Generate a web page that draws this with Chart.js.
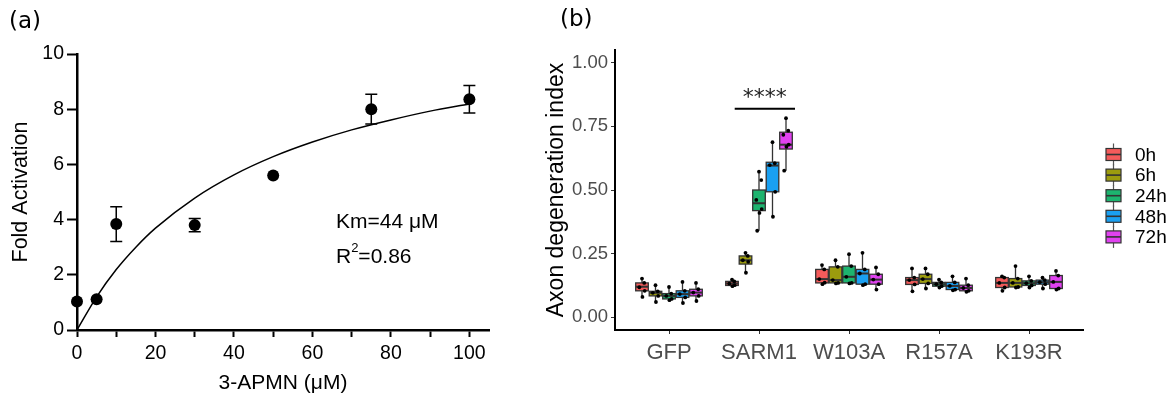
<!DOCTYPE html>
<html>
<head>
<meta charset="utf-8">
<script src="https://cdn.jsdelivr.net/npm/chart.js@4.4.1/dist/chart.umd.min.js"></script>
<style>
  html, body { margin: 0; padding: 0; background: #fff; }
  #wrap { position: relative; width: 1170px; height: 409px; }
  #chartA { position: absolute; left: 0; top: 0; }
  #chartB { position: absolute; left: 520px; top: 0; }
</style>
</head>
<body>
<div id="wrap">
  <canvas id="chartA" width="520" height="409"></canvas>
  <canvas id="chartB" width="650" height="409"></canvas>
</div>
<script>
// ---- (a) fold activation vs 3-APMN ----
const doseX   = [0, 5, 10, 30, 50, 75, 100];
const foldY   = [1.03, 1.11, 3.84, 3.80, 5.60, 8.00, 8.36];
const foldErr = [0, 0, 0.63, 0.24, 0, 0.54, 0.50];

// fitted saturation curve
const fitX = [0, 5, 10, 15, 20, 30, 40, 50, 60, 70, 80, 90, 100];
const fitY = [0, 1.2, 2.19, 3.0, 3.69, 4.78, 5.62, 6.28, 6.81, 7.25, 7.61, 7.93, 8.19];

// ---- (b) axon degeneration index ----
const groups = ['GFP', 'SARM1', 'W103A', 'R157A', 'K193R'];
const timepoints = ['0h', '6h', '24h', '48h', '72h'];
const yTicksB = [0, 0.25, 0.5, 0.75, 1.0];

// box stats per group: [min, q1, median, q3, max]
const box0h = [
  [0.080, 0.104, 0.120, 0.135, 0.152],
  [0.122, 0.125, 0.133, 0.141, 0.148],
  [0.130, 0.135, 0.150, 0.188, 0.205],
  [0.102, 0.129, 0.146, 0.156, 0.192],
  [0.104, 0.117, 0.135, 0.156, 0.161]
];
const box6h = [
  [0.060, 0.084, 0.096, 0.102, 0.126],
  [0.175, 0.209, 0.224, 0.241, 0.253],
  [0.133, 0.135, 0.146, 0.198, 0.224],
  [0.113, 0.133, 0.150, 0.169, 0.192],
  [0.117, 0.119, 0.135, 0.152, 0.201]
];
const box24h = [
  [0.067, 0.072, 0.084, 0.093, 0.119],
  [0.340, 0.419, 0.448, 0.500, 0.572],
  [0.133, 0.135, 0.159, 0.201, 0.248],
  [0.117, 0.122, 0.130, 0.137, 0.148],
  [0.117, 0.125, 0.134, 0.143, 0.161]
];
const box48h = [
  [0.056, 0.078, 0.091, 0.104, 0.139],
  [0.395, 0.493, 0.596, 0.609, 0.688],
  [0.126, 0.130, 0.172, 0.188, 0.253],
  [0.106, 0.109, 0.123, 0.137, 0.161],
  [0.113, 0.130, 0.138, 0.146, 0.156]
];
const box72h = [
  [0.064, 0.084, 0.097, 0.110, 0.135],
  [0.576, 0.661, 0.678, 0.727, 0.782],
  [0.109, 0.130, 0.148, 0.169, 0.196],
  [0.100, 0.104, 0.115, 0.126, 0.152],
  [0.109, 0.113, 0.139, 0.164, 0.182]
];

// individual replicates
const dots0h = [
  [0.152, 0.135, 0.118, 0.104, 0.080],
  [0.148, 0.141, 0.132, 0.126, 0.122],
  [0.205, 0.188, 0.150, 0.136, 0.130],
  [0.192, 0.156, 0.146, 0.129, 0.102],
  [0.161, 0.156, 0.135, 0.117, 0.104]
];
const dots6h = [
  [0.126, 0.102, 0.096, 0.084, 0.060],
  [0.253, 0.241, 0.224, 0.218, 0.175],
  [0.224, 0.198, 0.146, 0.135, 0.133],
  [0.192, 0.169, 0.150, 0.133, 0.113],
  [0.201, 0.152, 0.135, 0.119, 0.117]
];
const dots24h = [
  [0.119, 0.093, 0.084, 0.072, 0.067],
  [0.572, 0.539, 0.461, 0.425, 0.410, 0.340],
  [0.248, 0.201, 0.159, 0.135, 0.133],
  [0.148, 0.137, 0.130, 0.122, 0.117],
  [0.161, 0.143, 0.134, 0.125, 0.117]
];
const dots48h = [
  [0.139, 0.104, 0.091, 0.078, 0.056],
  [0.688, 0.605, 0.598, 0.493, 0.395],
  [0.253, 0.188, 0.172, 0.130, 0.126],
  [0.161, 0.137, 0.123, 0.109, 0.106],
  [0.156, 0.146, 0.138, 0.130, 0.113]
];
const dots72h = [
  [0.135, 0.110, 0.097, 0.084, 0.064],
  [0.782, 0.733, 0.717, 0.678, 0.670, 0.576],
  [0.196, 0.169, 0.148, 0.130, 0.109],
  [0.152, 0.126, 0.115, 0.104, 0.100],
  [0.182, 0.164, 0.139, 0.113, 0.109]
];

const boxes = [box0h, box6h, box24h, box48h, box72h];
const dots = [dots0h, dots6h, dots24h, dots48h, dots72h];
const timeColors = ['#F45B5B', '#9C9C0E', '#1DB46F', '#1AA0F2', '#E041F0'];

const FONT = "'Liberation Sans', Arial, Helvetica, sans-serif";
const DODGE = 0.15;      // spacing between time points inside a group
const HALF_BOX = 0.07;   // half box width, in category units
const jitter = [0, 0.025, -0.03, 0.03, 0.005, -0.02];

function dodgeX(g, t) { return g + 1 + (t - 2) * DODGE; }

// ---------- chart (a) ----------
const errorBars = {
  id: 'errorBars',
  beforeDatasetsDraw(chart) {
    const { ctx, scales: { x, y } } = chart;
    ctx.save();
    ctx.strokeStyle = '#000';
    ctx.lineWidth = 1.5;
    doseX.forEach((d, i) => {
      if (!foldErr[i]) return;
      const px = x.getPixelForValue(d);
      const top = y.getPixelForValue(foldY[i] + foldErr[i]);
      const bot = y.getPixelForValue(foldY[i] - foldErr[i]);
      ctx.beginPath();
      ctx.moveTo(px, top); ctx.lineTo(px, bot);
      ctx.moveTo(px - 6, top); ctx.lineTo(px + 6, top);
      ctx.moveTo(px - 6, bot); ctx.lineTo(px + 6, bot);
      ctx.stroke();
    });
    ctx.restore();
  }
};

const notesA = {
  id: 'notesA',
  afterDraw(chart) {
    const { ctx, scales: { x, y } } = chart;
    ctx.save();
    ctx.fillStyle = '#000';
    ctx.textBaseline = 'middle';
    ctx.font = '23px "DejaVu Sans"';
    ctx.fillText('(a)', 9, 22);

    ctx.font = '21px ' + FONT;
    const tx = x.getPixelForValue(66);
    ctx.fillText('Km=44 \u03BCM', tx, y.getPixelForValue(3.9));
    const ry = y.getPixelForValue(2.65);
    ctx.fillText('R', tx, ry);
    const rw = ctx.measureText('R').width;
    ctx.font = '13px ' + FONT;
    ctx.fillText('2', tx + rw, ry - 8);
    const sw = ctx.measureText('2').width;
    ctx.font = '21px ' + FONT;
    ctx.fillText('=0.86', tx + rw + sw, ry);
    ctx.restore();
  }
};

new Chart(document.getElementById('chartA'), {
  type: 'scatter',
  data: {
    datasets: [
      {
        data: doseX.map((v, i) => ({ x: v, y: foldY[i] })),
        pointRadius: 6,
        pointBackgroundColor: '#000',
        pointBorderWidth: 0,
        showLine: false,
        clip: false,
        order: 0
      },
      {
        data: fitX.map((v, i) => ({ x: v, y: fitY[i] })),
        showLine: true,
        borderColor: '#000',
        borderWidth: 1.5,
        pointRadius: 0,
        cubicInterpolationMode: 'monotone',
        order: 1
      }
    ]
  },
  options: {
    responsive: false,
    animation: false,
    events: [],
    layout: { padding: { left: 0, right: 31, top: 54, bottom: 0 } },
    plugins: { legend: { display: false }, tooltip: { enabled: false } },
    scales: {
      x: {
        type: 'linear', min: 0, max: 105,
        afterFit: s => { s.height = 79; },
        grid: { drawOnChartArea: false, tickLength: 7, tickColor: '#000', tickWidth: 2 },
        border: { color: '#000', width: 2.5 },
        ticks: {
          stepSize: 10, includeBounds: false, autoSkip: false, maxRotation: 0,
          padding: 5, color: '#000', font: { family: FONT, size: 19.5 },
          callback: v => (v % 20 === 0 ? v : '')
        },
        title: {
          display: true, text: '3-APMN (\u03BCM)', color: '#000',
          font: { family: FONT, size: 21 }, padding: { top: 0, bottom: 13 }
        }
      },
      y: {
        type: 'linear', min: 0, max: 10,
        afterFit: s => { s.width = 77; },
        grid: { drawOnChartArea: false, tickLength: 10, tickColor: '#000', tickWidth: 2 },
        border: { color: '#000', width: 2.5 },
        ticks: { stepSize: 2, padding: 3, color: '#000', font: { family: FONT, size: 19.5 } },
        title: {
          display: true, text: 'Fold Activation', color: '#000',
          font: { family: FONT, size: 21.5 }, padding: { top: 8, bottom: 0 }
        }
      }
    }
  },
  plugins: [errorBars, notesA]
});

// ---------- chart (b) ----------
const boxPlots = {
  id: 'boxPlots',
  beforeDatasetsDraw(chart) {
    const { ctx, scales: { x, y } } = chart;
    ctx.save();
    boxes.forEach((set, t) => {
      set.forEach((b, g) => {
        const cx = x.getPixelForValue(dodgeX(g, t));
        const x0 = x.getPixelForValue(dodgeX(g, t) - HALF_BOX);
        const x1 = x.getPixelForValue(dodgeX(g, t) + HALF_BOX);
        const [lo, q1, med, q3, hi] = b.map(v => y.getPixelForValue(v));
        ctx.strokeStyle = '#333';
        ctx.lineWidth = 1.3;
        ctx.beginPath();
        ctx.moveTo(cx, hi); ctx.lineTo(cx, q3);
        ctx.moveTo(cx, q1); ctx.lineTo(cx, lo);
        ctx.stroke();
        ctx.fillStyle = timeColors[t];
        ctx.fillRect(x0, q3, x1 - x0, q1 - q3);
        ctx.strokeRect(x0, q3, x1 - x0, q1 - q3);
        ctx.lineWidth = 2;
        ctx.beginPath();
        ctx.moveTo(x0, med); ctx.lineTo(x1, med);
        ctx.stroke();
      });
    });
    ctx.restore();
  }
};

const extrasB = {
  id: 'extrasB',
  afterDraw(chart) {
    const { ctx, scales: { x, y } } = chart;
    ctx.save();
    ctx.fillStyle = '#000';
    ctx.textBaseline = 'middle';
    ctx.font = '23px "DejaVu Sans"';
    ctx.fillText('(b)', 40, 20);

    // significance bar over SARM1
    const ly = y.getPixelForValue(0.819);
    ctx.strokeStyle = '#000';
    ctx.lineWidth = 2;
    ctx.beginPath();
    ctx.moveTo(x.getPixelForValue(1.73), ly);
    ctx.lineTo(x.getPixelForValue(2.4), ly);
    ctx.stroke();
    ctx.font = '22px "DejaVu Sans"';
    ctx.textAlign = 'center';
    ctx.fillStyle = '#222';
    ctx.fillText('****', x.getPixelForValue(2.065), y.getPixelForValue(0.86));

    // legend
    ctx.textAlign = 'left';
    timepoints.forEach((label, t) => {
      const yc = 154.5 + t * 20.6;
      const kx = 586, kw = 15, kh = 12;
      ctx.strokeStyle = '#555';
      ctx.lineWidth = 1.2;
      ctx.beginPath();
      ctx.moveTo(kx + kw / 2, yc - 11); ctx.lineTo(kx + kw / 2, yc + 11);
      ctx.stroke();
      ctx.fillStyle = timeColors[t];
      ctx.fillRect(kx, yc - kh / 2, kw, kh);
      ctx.strokeStyle = '#333';
      ctx.strokeRect(kx, yc - kh / 2, kw, kh);
      ctx.lineWidth = 1.6;
      ctx.beginPath();
      ctx.moveTo(kx, yc); ctx.lineTo(kx + kw, yc);
      ctx.stroke();
      ctx.fillStyle = '#000';
      ctx.font = '19px ' + FONT;
      ctx.fillText(label, 615, yc + 1);
    });
    ctx.restore();
  }
};

const dotPoints = [];
dots.forEach((set, t) => {
  set.forEach((vals, g) => {
    vals.forEach((v, k) => {
      dotPoints.push({ x: dodgeX(g, t) + jitter[k % jitter.length], y: v });
    });
  });
});

new Chart(document.getElementById('chartB'), {
  type: 'scatter',
  data: {
    datasets: [{
      data: dotPoints,
      pointRadius: 1.9,
      pointBackgroundColor: '#000',
      pointBorderWidth: 0,
      showLine: false
    }]
  },
  options: {
    responsive: false,
    animation: false,
    events: [],
    layout: { padding: { left: 0, right: 87, top: 50, bottom: 0 } },
    plugins: { legend: { display: false }, tooltip: { enabled: false } },
    scales: {
      x: {
        type: 'linear', min: 0.4, max: 5.6,
        afterFit: s => { s.height = 79; },
        grid: { drawOnChartArea: false, tickLength: 4, tickColor: '#333', tickWidth: 1 },
        border: { color: '#000', width: 2 },
        ticks: {
          stepSize: 1, includeBounds: false, autoSkip: false, maxRotation: 0,
          padding: 6, color: '#4D4D4D', font: { family: FONT, size: 22 },
          callback: v => groups[v - 1] || ''
        }
      },
      y: {
        type: 'linear', min: -0.05, max: 1.05,
        afterFit: s => { s.width = 95; },
        afterBuildTicks: s => { s.ticks = yTicksB.map(v => ({ value: v })); },
        grid: { drawOnChartArea: false, tickLength: 4, tickColor: '#333', tickWidth: 1 },
        border: { color: '#000', width: 2 },
        ticks: {
          padding: 3, color: '#4D4D4D', font: { family: FONT, size: 18.5 },
          callback: v => v.toFixed(2)
        },
        title: {
          display: true, text: 'Axon degeneration index', color: '#000',
          font: { family: FONT, size: 23 }, padding: { top: 23, bottom: 0 }
        }
      }
    }
  },
  plugins: [boxPlots, extrasB]
});
</script>
</body>
</html>
